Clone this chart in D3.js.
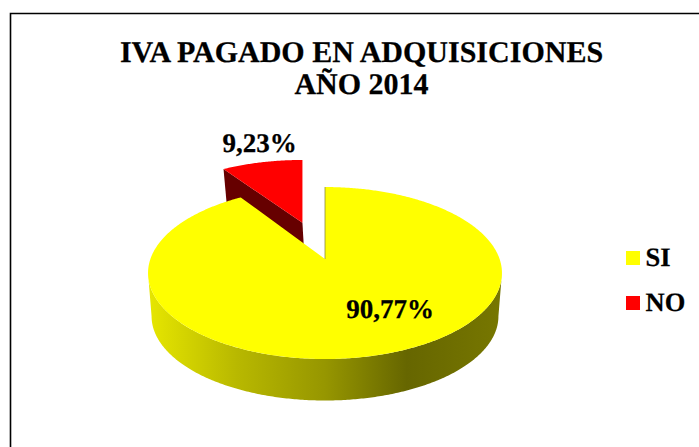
<!DOCTYPE html>
<html><head><meta charset="utf-8">
<script src="https://cdnjs.cloudflare.com/ajax/libs/d3/7.8.5/d3.min.js"></script>
<style>html,body{margin:0;padding:0;background:#fff}svg{display:block}text{font-family:"Liberation Serif",serif;font-weight:bold;fill:#000;text-rendering:geometricPrecision;stroke:#000;stroke-width:0.25}</style>
</head><body><svg id="c" width="699" height="447"></svg>
<script>
const titleLines = ["IVA PAGADO EN ADQUISICIONES", "AÑO 2014"];
const categories = ["SI", "NO"];
const values = [90.77, 9.23];
const labels = ["90,77%", "9,23%"];
const colors = ["#ffff00", "#ff0000"];

const svg = d3.select("#c");
svg.append("rect").attr("x",0).attr("y",0).attr("width",699).attr("height",447).attr("fill","#fff");
// frame: left and top edges only
svg.append("path").attr("d","M10.5 447V13.5H699").attr("fill","none").attr("stroke","#000").attr("stroke-width",1.6);

const defs = svg.append("defs");
const grad = defs.append("linearGradient").attr("id","wall").attr("gradientUnits","userSpaceOnUse")
  .attr("x1",149).attr("x2",502).attr("y1",0).attr("y2",0);
[[0,"#e6e600"],[0.25,"#b8b800"],[0.5,"#969600"],[0.73,"#666600"],[1,"#777700"]].forEach(s=>grad.append("stop").attr("offset",s[0]).attr("stop-color",s[1]));

// perspective projection of a disc onto the page
const cx=325, cy=259, A=174.6, B=83.7, k=0.163;
function proj(u,v,s=1,dy=0){const w=1+k*v;return [cx+s*A*u/w, cy+dy-s*B*v/w];}
const pie=d3.pie().sort(null).value(d=>d)(values);
const TOPS=1, BOTS=0.98, BOTDY=43.5;
function arcPts(a0,a1,ox,oy,s,dy){
  const n=Math.max(2,Math.ceil(Math.abs(a1-a0)/0.01));
  return d3.range(n+1).map(i=>{const a=a0+(a1-a0)*i/n;return proj(ox+Math.sin(a),oy+Math.cos(a),s,dy);});
}
const line=d3.line();

// exploded NO slice; its lower part is hidden behind the SI slice
const no=pie[1], mid=(no.startAngle+no.endAngle)/2, D=0.4865;
const ox=D*Math.sin(mid), oy=D*Math.cos(mid);
const apex=proj(ox,oy);
const redG=svg.append("g").attr("transform",`translate(${apex[0]},${apex[1]}) skewX(2.7) translate(${-apex[0]},${-apex[1]})`);
const redBack=[...arcPts(no.startAngle,no.startAngle,ox,oy,TOPS,0),proj(ox,oy,TOPS,0),proj(ox,oy,BOTS,BOTDY),...arcPts(no.startAngle,no.startAngle,ox,oy,BOTS,BOTDY)];
redG.append("path").attr("d",line(redBack)+"Z").attr("fill","#660000");
redG.append("path").attr("d",line([proj(ox,oy),...arcPts(no.startAngle,no.endAngle,ox,oy,TOPS,0)])+"Z").attr("fill",colors[1]);

// SI slice
const si=pie[0];
const topArc=arcPts(si.startAngle,si.endAngle,0,0,TOPS,0);
const ext=Math.asin(k);
const wallAngles=[Math.PI/2+ext, 3*Math.PI/2-ext];
const wallTop=arcPts(wallAngles[0],wallAngles[1],0,0,TOPS,0);
const wallBot=arcPts(wallAngles[1],wallAngles[0],0,0,BOTS,BOTDY);
svg.append("path").attr("d",line([...wallTop,...wallBot])+"Z").attr("fill","url(#wall)");
svg.append("path").attr("d",line([proj(0,0),...topArc])+"Z").attr("fill",colors[0]);
svg.append("path").attr("d",line([proj(0,0),proj(0,1)])).attr("stroke","#8c8c40").attr("stroke-width",0.8).attr("fill","none");

// titles
svg.selectAll(".t").data(titleLines).join("text").attr("class","t").attr("x",361.5).attr("y",(d,i)=>62+i*32)
  .attr("text-anchor","middle").attr("font-size",30).text(d=>d);
// data labels
const labelPos=[[390,318],[259.5,152]];
svg.selectAll(".l").data(labels).join("text").attr("class","l").attr("x",(d,i)=>labelPos[i][0]).attr("y",(d,i)=>labelPos[i][1])
  .attr("text-anchor","middle").attr("font-size",27).text(d=>d);
// legend
const ly=d3.scalePoint().domain(categories).range([251,296]);
const lg=svg.selectAll(".g").data(categories).join("g").attr("class","g").attr("transform",d=>`translate(626,${ly(d)})`);
lg.append("rect").attr("y",0).attr("x",0).attr("width",14).attr("height",14).attr("fill",(d,i)=>colors[i]);
lg.append("text").attr("x",19.5).attr("y",15).attr("font-size",26.5).text(d=>d);
</script></body></html>
